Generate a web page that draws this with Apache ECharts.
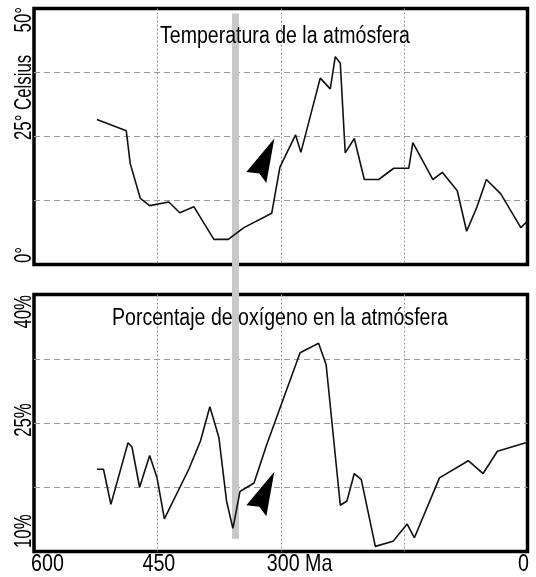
<!DOCTYPE html>
<html><head><meta charset="utf-8">
<script src="https://cdn.jsdelivr.net/npm/echarts@6/dist/echarts.min.js"></script>
<style>html,body{margin:0;padding:0;background:#fff}#c{width:536px;height:577px}</style>
</head><body><div id="c"></div>
<script>
const FONT = "'Liberation Sans', Arial, sans-serif";

// Temperature (Ma, degrees C)
const tempMa = [523.5,487.8,483,470.7,459.4,436,422.8,405.7,381.3,363.8,344.8,311,301,282,275.5,252,239.8,233.7,227.6,221.6,210.6,198.4,180.9,162.6,144.3,139.4,115,103.6,85.4,74,61.8,50,32.5,8.1,0];
const tempC  = [28.3,26.1,19.7,12.9,11.5,12.2,10.1,11.3,4.9,4.9,7.2,10.0,19.0,25.3,21.9,36.4,34.3,40.6,39.3,21.8,24.6,16.6,16.6,18.8,18.8,23.8,16.6,18.0,14.4,6.5,11.1,16.6,13.8,7.2,8.5];

// Oxygen (Ma, percent)
const oxyMa  = [523.5,515.5,506.5,485.7,480.9,471.6,459.4,450.4,441.5,411.8,397.6,386.2,375.2,365.9,358.2,349.6,332.5,317,276.5,254,244.8,227.6,219.5,210.6,202.1,185,163.4,146.3,137.5,107,72,54,36.6,2.1];
const oxyPct = [19.6,19.6,15.5,22.7,22.2,17.5,21.2,18.6,13.8,19.6,22.9,26.9,23.3,15.9,12.7,17.0,18.0,22.5,33.2,34.3,31.8,15.4,15.9,19.1,18.4,10.6,11.2,13.2,11.6,18.6,20.6,19.1,21.7,22.7];

// Tick labels
const xTickVals = [600, 450, 300, 0];
const xTickText = ['600', '450', '300 Ma', '0'];
const tempTickVals = [0, 25, 50];
const tempTickText = ['0°', '25° Celsius', '50°'];
const oxyTickVals = [10, 25, 40];
const oxyTickText = ['10%', '25%', '40%'];
const titles = ['Temperatura de la atmósfera', 'Porcentaje de oxígeno en la atmósfera'];
const markerMa = 355;

const chart = echarts.init(document.getElementById('c'));
const tempData = tempMa.map((m,i)=>[m,tempC[i]]);
const oxyData = oxyMa.map((m,i)=>[m,oxyPct[i]]);

const gridStyle = {show:true, borderColor:'#000', borderWidth:3.5, backgroundColor:'#fff'};
const xBase = {type:'value', min:0, max:600, interval:150, inverse:true,
  axisLine:{show:false}, axisTick:{show:false}, axisLabel:{show:false},
  splitLine:{show:true, showMinLine:false, showMaxLine:false, lineStyle:{type:[2,2], color:'#9a9a9a', width:1}}};
const yBase = {type:'value', axisLine:{show:false}, axisTick:{show:false}, axisLabel:{show:false},
  splitLine:{show:true, showMinLine:false, showMaxLine:false, lineStyle:{type:[6,4], color:'#9a9a9a', width:1}}};

chart.setOption({
  animation:false,
  grid:[Object.assign({left:34, top:8.5, width:493.5, height:256}, gridStyle),
        Object.assign({left:34, top:294.5, width:493.5, height:257}, gridStyle)],
  xAxis:[Object.assign({gridIndex:0}, xBase), Object.assign({gridIndex:1}, xBase)],
  yAxis:[Object.assign({gridIndex:0, min:0, max:50, interval:12.5}, yBase),
         Object.assign({gridIndex:1, min:10, max:40, interval:7.5}, yBase)],
  series:[
    {type:'line', xAxisIndex:0, yAxisIndex:0, data:tempData, showSymbol:false, z:3,
     lineStyle:{color:'#111', width:1.6}},
    {type:'line', xAxisIndex:1, yAxisIndex:1, data:oxyData, showSymbol:false, z:3,
     lineStyle:{color:'#111', width:1.6}}
  ]
});

const g = [];
// marker bar
const bx = chart.convertToPixel({xAxisIndex:0}, markerMa);
const bTop = chart.convertToPixel({gridIndex:0}, [markerMa, 49])[1];
const bBot = chart.convertToPixel({gridIndex:1}, [markerMa, 11.5])[1];
g.push({type:'rect', z:1, shape:{x:bx-3.5, y:bTop, width:7, height:bBot-bTop}, style:{fill:'#c8c8c8'}});
// arrows
const arrowShape = [[0,0],[-28,33.4],[-15,35],[-8,44.5]];
const arrow = (t)=>({type:'polygon', z:5, shape:{points:arrowShape.map(p=>[t[0]+p[0], t[1]+p[1]])}, style:{fill:'#000'}});
g.push(arrow(chart.convertToPixel({gridIndex:0}, [307.8, 24.6])));
g.push(arrow(chart.convertToPixel({gridIndex:1}, [307.8, 19.3])));
// titles
const txt = (o)=>Object.assign({type:'text', z:6}, o);
g.push(txt({x:160, y:37, scaleX:0.85, style:{text:titles[0], font:'23px '+FONT, fill:'#000', align:'left', verticalAlign:'middle'}}));
g.push(txt({x:112, y:319, scaleX:0.85, style:{text:titles[1], font:'23px '+FONT, fill:'#000', align:'left', verticalAlign:'middle'}}));
// x tick labels (bottom panel)
xTickVals.forEach((v,i)=>{
  const px = chart.convertToPixel({xAxisIndex:1}, v);
  let x = px, align = 'center';
  if (i === 0) { x = px - 3; align = 'left'; }
  else if (i === xTickVals.length - 1) { x = px + 1.5; align = 'right'; }
  else if (xTickText[i].indexOf(' ') > 0) { x = px - 14; align = 'left'; }
  else { x = px + 1.5; }
  g.push(txt({x:x, y:564, scaleX:0.82, style:{text:xTickText[i], font:'24px '+FONT, fill:'#000', align:align, verticalAlign:'middle'}}));
});
// y tick labels (rotated)
const yLab = (gi, vals, texts, aligns, offs) => vals.forEach((v,i)=>{
  const py = chart.convertToPixel({gridIndex:gi}, [0, v])[1];
  g.push(txt({x:24.5, y:py + offs[i], rotation:Math.PI/2, scaleX:0.7,
    style:{text:texts[i], font:'24px '+FONT, fill:'#000', align:aligns[i], verticalAlign:'middle'}}));
});
yLab(0, tempTickVals, tempTickText, ['left','left','right'], [-1.5, 3.5, -1.5]);
yLab(1, oxyTickVals, oxyTickText, ['left','center','right'], [-3.5, -3, 0.5]);

chart.setOption({graphic:g});
</script></body></html>
